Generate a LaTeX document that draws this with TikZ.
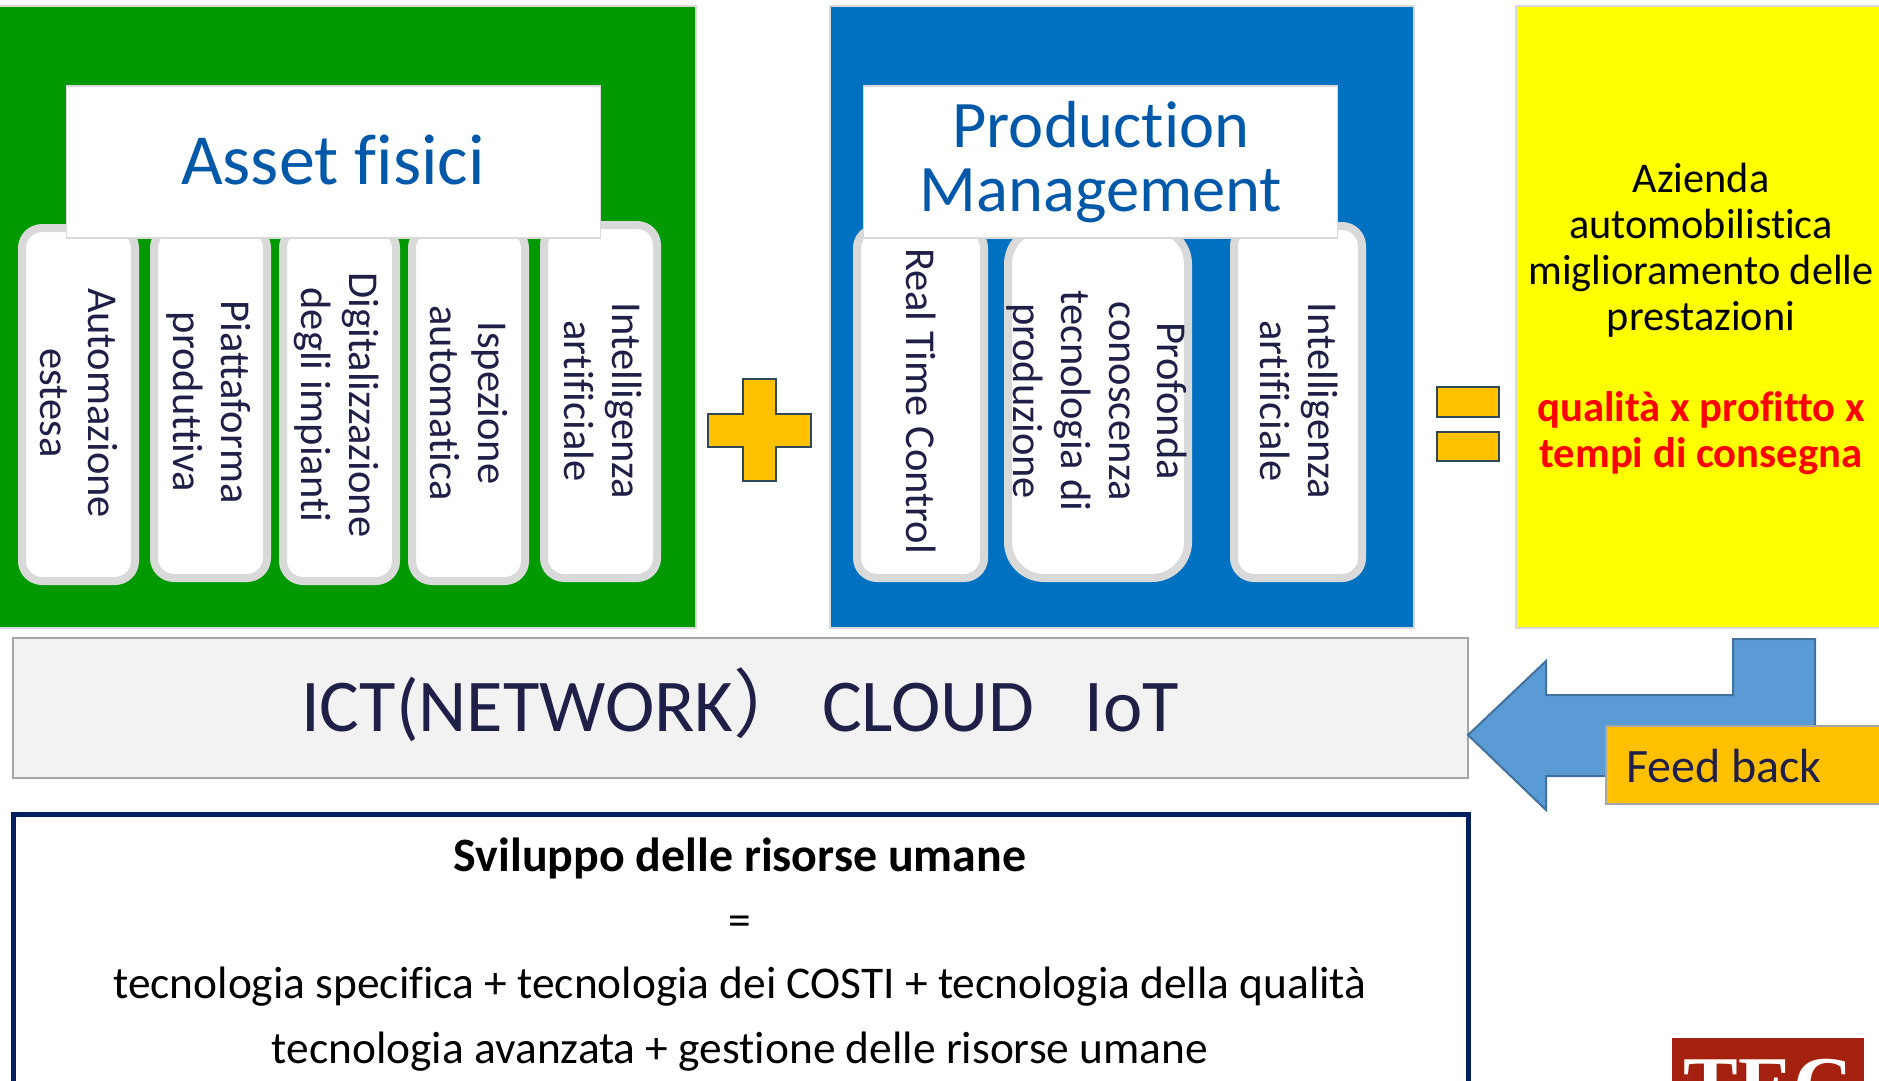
\documentclass[tikz,border=0pt]{standalone}
\usepackage{fontspec}
\setmainfont[Ligatures=CommonOff]{Carlito}
\newfontfamily\cjkfont{Noto Sans CJK SC}
\newfontfamily\logofont{Liberation Serif}
\definecolor{inktext}{HTML}{1F1F47}
\definecolor{titleblue}{HTML}{0058A8}
\definecolor{panelgreen}{HTML}{009900}
\definecolor{panelblue}{HTML}{0070C0}
\definecolor{panelyellow}{HTML}{FFFF00}
\definecolor{orangefill}{HTML}{FFC000}
\definecolor{slateedge}{HTML}{2F4858}
\definecolor{arrowfill}{HTML}{5B9BD5}
\definecolor{arrowedge}{HTML}{41719C}
\definecolor{palegrey}{HTML}{D9D9D9}
\definecolor{navyedge}{HTML}{002060}
\definecolor{logored}{HTML}{A5210F}
\definecolor{purered}{HTML}{FF0000}
\tikzset{
  panel/.style={draw=palegrey,line width=2pt},
  titlebox/.style={draw=palegrey,line width=1.5pt,fill=white,text=titleblue,align=center},
  pillar/.style={draw=palegrey,line width=8pt,fill=white,rounded corners=20pt},
  pillartext/.style={rotate=-90,align=center,text=inktext,inner sep=0pt,font=\fontsize{42.5}{48}\selectfont},
  opsign/.style={draw=slateedge,line width=2pt,fill=orangefill},
}
\begin{document}
\begin{tikzpicture}[x=1pt,y=-1pt]
\useasboundingbox (0,0) rectangle (1879,1080);
% panels
\path[panel,fill=panelgreen] (-2,6) rectangle (696,628);
\path[panel,fill=panelblue] (830,6) rectangle (1414,628);
\path[panel,fill=panelyellow] (1516,6) rectangle (1881,628);
% green pillars
\draw[pillar] (22,228) rectangle (135,581);
\draw[pillar] (154,228) rectangle (267,578);
\draw[pillar] (283,228) rectangle (396,581);
\draw[pillar] (412,228) rectangle (525,581);
\draw[pillar] (544,225) rectangle (657,578);
% blue pillars
\draw[pillar] (857,228) rectangle (984,578);
\draw[pillar,rounded corners=36pt] (1008,228) rectangle (1188,578);
\draw[pillar] (1234,226) rectangle (1362,578);
% titles
\node[titlebox,minimum width=534pt,minimum height=152pt,inner sep=0pt] (assets) at (333.5,162) {};
\node[text=titleblue,inner sep=0pt,font=\fontsize{72}{72}\selectfont] (assetstext) at (333,160) {Asset fisici};
\node[titlebox,minimum width=474pt,minimum height=152pt,inner sep=0pt] (prod) at (1100.5,162) {};
\node[text=titleblue,align=center,inner sep=0pt,font=\fontsize{66.5}{64}\selectfont] (prodtext) at (1101,162) {Production\\Management};
% pillar text
\node[pillartext] (p1) at (79,403) {Automazione\\estesa};
\node[pillartext] (p2) at (209,402) {Piattaforma\\produttiva};
\node[pillartext] (p3) at (337,405) {Digitalizzazione\\degli impianti};
\node[pillartext] (p4) at (469,403) {Ispezione\\automatica};
\node[pillartext] (p5) at (603,401) {Intelligenza\\artificiale};
\node[pillartext] (q1) at (921,401) {Real Time Control};
\node[pillartext] (q2) at (1097,401) {Profonda\\conoscenza\\tecnologia di\\produzione};
\node[pillartext] (q3) at (1299,401) {Intelligenza\\artificiale};
% plus and equals
\draw[opsign] (743,379) -- (776,379) -- (776,414) -- (811,414) -- (811,447) -- (776,447) -- (776,481) -- (743,481) -- (743,447) -- (708,447) -- (708,414) -- (743,414) -- cycle;
\draw[opsign] (1437,387) rectangle (1499,417);
\draw[opsign] (1437,432) rectangle (1499,461);
% yellow text
\node[align=center,inner sep=0pt,text=black,font=\fontsize{42.3}{46}\selectfont] (ytext) at (1701,250) {Azienda\\automobilistica\\miglioramento delle\\prestazioni};
\node[align=center,inner sep=0pt,text=purered,font=\fontsize{42.7}{46}\selectfont\bfseries] (rtext) at (1701,433) {qualità x profitto x\\tempi di consegna};
% ICT bar
\node[draw=black!35,line width=1.5pt,fill=black!5,minimum width=1455pt,minimum height=140pt,inner sep=0pt] (ict) at (740.5,708) {};
\node[text=inktext,inner sep=0pt,font=\fontsize{74.5}{74.5}\selectfont] (icttext) at (740,705) {ICT(NETWORK{\cjkfont ）}\hspace{14pt}CLOUD\hspace{50pt}IoT};
% feedback arrow
\draw[draw=arrowedge,line width=2pt,fill=arrowfill] (1468,735) -- (1546,661) -- (1546,695) -- (1733,695) -- (1733,639) -- (1815,639) -- (1815,776) -- (1546,776) -- (1546,810) -- cycle;
\node[draw=black!35,line width=1.5pt,fill=orangefill,minimum width=290pt,minimum height=78pt,inner sep=0pt] (fb) at (1751,765) {};
\node[text=inktext,anchor=west,inner sep=0pt,font=\fontsize{48}{48}\selectfont] (fbtext) at (1626,766) {Feed back};
% bottom box
\draw[draw=navyedge,line width=5pt,fill=white] (13,1090) -- (13,814) -- (1468,814) -- (1468,1090);
\node[inner sep=0pt,font=\fontsize{47.9}{48}\selectfont\bfseries] (h1) at (740,858) {Sviluppo delle risorse umane};
\node[inner sep=0pt,font=\fontsize{45.4}{48}\selectfont] (h2) at (740,926) {=};
\node[inner sep=0pt,font=\fontsize{45.4}{48}\selectfont] (h3) at (740,987) {tecnologia specifica + tecnologia dei COSTI + tecnologia della qualità};
\node[inner sep=0pt,font=\fontsize{45.4}{48}\selectfont] (h4) at (740,1052) {tecnologia avanzata + gestione delle risorse umane};
% logo
\begin{scope}
\clip (0,0) rectangle (1879,1080);
\fill[logored] (1672,1038) rectangle (1864,1090);
\node[anchor=base,text=white,inner sep=0pt,font=\logofont\bfseries\fontsize{82}{82}\selectfont] (logo) at (1768,1113) {TEC};
\end{scope}
\end{tikzpicture}
\end{document}
